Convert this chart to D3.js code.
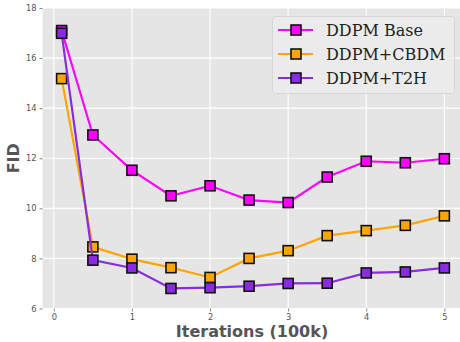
<!DOCTYPE html>
<html>
<head>
<meta charset="utf-8">
<script src="https://cdn.jsdelivr.net/npm/d3@7"></script>
<style>
  body { margin: 0; background: #fff; }
  svg { display: block; }
</style>
</head>
<body>
<svg width="460" height="342"></svg>
<script>
// data
var iterations = [0.1, 0.5, 1, 1.5, 2, 2.5, 3, 3.5, 4, 4.5, 5];
var ddpmBase = [17.1, 12.93, 11.52, 10.5, 10.9, 10.33, 10.23, 11.25, 11.88, 11.82, 11.98];
var ddpmCbdm = [15.18, 8.46, 7.97, 7.63, 7.24, 8.0, 8.31, 8.91, 9.11, 9.32, 9.7];
var ddpmT2h = [16.99, 7.93, 7.62, 6.8, 6.83, 6.89, 7.0, 7.01, 7.42, 7.46, 7.62];
var seriesNames = ["DDPM Base", "DDPM+CBDM", "DDPM+T2H"];
var seriesColors = ["#ff00ff", "#ffa500", "#8a2be2"];
var xTicks = [0, 1, 2, 3, 4, 5];
var yTicks = [6, 8, 10, 12, 14, 16, 18];

var series = [ddpmBase, ddpmCbdm, ddpmT2h].map(function (vals, i) {
  return {
    name: seriesNames[i],
    color: seriesColors[i],
    points: vals.map(function (v, j) { return { x: iterations[j], y: v }; })
  };
});

var svg = d3.select("svg");
var plotLeft = 42.5, plotTop = 8, plotBottom = 308.5, plotRight = 463.5;

// matplotlib style 5% margin on x
var x = d3.scaleLinear().domain([-0.145, 5.245]).range([plotLeft, plotRight]);
var y = d3.scaleLinear().domain([6, 18]).range([plotBottom, plotTop]);

// background
svg.append("rect")
  .attr("x", plotLeft).attr("y", plotTop)
  .attr("width", 460 - plotLeft).attr("height", plotBottom - plotTop)
  .attr("fill", "#e5e5e5");

// grid
var grid = svg.append("g");
grid.selectAll(".gx").data(xTicks).enter().append("line")
  .attr("x1", d => x(d)).attr("x2", d => x(d))
  .attr("y1", plotTop).attr("y2", plotBottom)
  .attr("stroke", "#fff").attr("stroke-width", 1.1);
grid.selectAll(".gy").data(yTicks).enter().append("line")
  .attr("x1", plotLeft).attr("x2", 460)
  .attr("y1", d => y(d)).attr("y2", d => y(d))
  .attr("stroke", "#fff").attr("stroke-width", 1.1);

// axes
var xAxis = svg.append("g")
  .attr("transform", "translate(0," + plotBottom + ")")
  .call(d3.axisBottom(x).tickValues(xTicks).tickSize(3).tickPadding(3).tickFormat(d3.format("d")));
var yAxis = svg.append("g")
  .attr("transform", "translate(" + plotLeft + ",0)")
  .call(d3.axisLeft(y).tickValues(yTicks).tickSize(3).tickPadding(3).tickFormat(d3.format("d")));

[xAxis, yAxis].forEach(function (a) {
  a.select(".domain").remove();
  a.selectAll(".tick line").attr("stroke", "#666").attr("stroke-width", 0.8);
  a.selectAll(".tick text")
    .attr("fill", "#555")
    .style("font-family", "DejaVu Sans")
    .style("font-size", "8.3px");
});

// lines + markers
var line = d3.line().x(d => x(d.x)).y(d => y(d.y));
var msize = 10;

series.forEach(function (s) {
  var g = svg.append("g");
  g.append("path")
    .datum(s.points)
    .attr("d", line)
    .attr("fill", "none")
    .attr("stroke", s.color)
    .attr("stroke-width", 2.2);
  g.selectAll("rect").data(s.points).enter().append("rect")
    .attr("x", d => x(d.x) - msize / 2)
    .attr("y", d => y(d.y) - msize / 2)
    .attr("width", msize).attr("height", msize)
    .attr("fill", s.color)
    .attr("stroke", "#111")
    .attr("stroke-width", 1.6);
});

// legend
var legend = svg.append("g");
legend.append("rect")
  .attr("x", 272.5).attr("y", 16.5)
  .attr("width", 182).attr("height", 77)
  .attr("rx", 3)
  .attr("fill", "#ebebeb").attr("fill-opacity", 0.9)
  .attr("stroke", "#d0d0d0").attr("stroke-width", 0.8);

var rows = legend.selectAll(".row").data(series).enter().append("g")
  .attr("transform", (d, i) => "translate(0," + (30 + i * 24) + ")");
rows.append("line")
  .attr("x1", 278).attr("x2", 313)
  .attr("stroke", d => d.color).attr("stroke-width", 2.2);
rows.append("rect")
  .attr("x", 296 - msize / 2).attr("y", -msize / 2)
  .attr("width", msize).attr("height", msize)
  .attr("fill", d => d.color)
  .attr("stroke", "#111").attr("stroke-width", 1.6);
rows.append("text")
  .attr("x", 326).attr("y", 6)
  .attr("fill", "#222")
  .style("font-family", "DejaVu Serif")
  .style("font-size", "16px")
  .text(d => d.name);

// axis titles
svg.append("text")
  .attr("x", (plotLeft + plotRight) / 2 - 1).attr("y", 337)
  .attr("text-anchor", "middle")
  .attr("fill", "#555")
  .style("font-family", "DejaVu Sans")
  .style("font-weight", "bold")
  .style("font-size", "16px")
  .text("Iterations (100k)");

svg.append("text")
  .attr("transform", "translate(18.5," + (plotTop + plotBottom) / 2 + ") rotate(-90)")
  .attr("text-anchor", "middle")
  .attr("fill", "#555")
  .style("font-family", "DejaVu Sans")
  .style("font-weight", "bold")
  .style("font-size", "16px")
  .text("FID");
</script>
</body>
</html>
